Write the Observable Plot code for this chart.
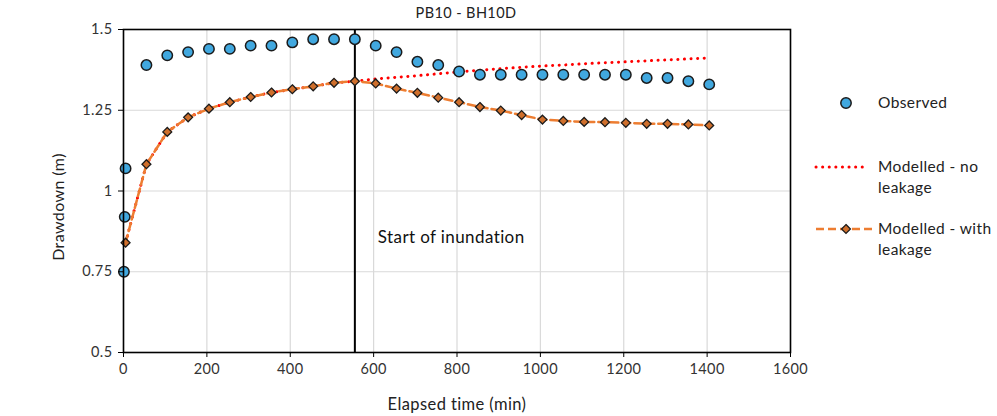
<!DOCTYPE html>
<html>
<head>
<meta charset="utf-8">
<script src="https://cdn.jsdelivr.net/npm/d3@7"></script>
<script src="https://cdn.jsdelivr.net/npm/@observablehq/plot@0.6"></script>
<style>
  html, body { margin: 0; padding: 0; background: #fff; overflow: hidden; }
  svg text { letter-spacing: 0.4px; }
</style>
</head>
<body>
<div id="chart"></div>
<script>
// ---- data ----
const chartTitle = "PB10 - BH10D";
const xTicks = [0, 200, 400, 600, 800, 1000, 1200, 1400, 1600];
const xTickLabels = ["0", "200", "400", "600", "800", "1000", "1200", "1400", "1600"];
const yTicks = [0.5, 0.75, 1, 1.25, 1.5];
const yTickLabels = ["0.5", "0.75", "1", "1.25", "1.5"];

const obsTime = [1, 3, 5, 55, 105, 155, 205, 255, 305, 355, 405, 455, 505, 555,
  605, 655, 705, 755, 805, 855, 905, 955, 1005, 1055, 1105, 1155, 1205, 1255, 1305, 1355, 1405];
const obsDrawdown = [0.75, 0.92, 1.07, 1.39, 1.42, 1.43, 1.44, 1.44, 1.45, 1.45, 1.46, 1.47, 1.47, 1.47,
  1.45, 1.43, 1.40, 1.39, 1.37, 1.36, 1.36, 1.36, 1.36, 1.36, 1.36, 1.36, 1.36, 1.35, 1.35, 1.34, 1.33];

const modelTime = [5, 55, 105, 155, 205, 255, 305, 355, 405, 455, 505, 555,
  605, 655, 705, 755, 805, 855, 905, 955, 1005, 1055, 1105, 1155, 1205, 1255, 1305, 1355, 1405];
const noLeakage = [0.84, 1.083, 1.183, 1.228, 1.255, 1.275, 1.291, 1.305, 1.315, 1.324, 1.335, 1.34,
  1.347, 1.352, 1.357, 1.363, 1.369, 1.374, 1.379, 1.383, 1.387, 1.390, 1.394, 1.397, 1.400, 1.403, 1.406, 1.409, 1.412];
const withLeakage = [0.84, 1.083, 1.183, 1.228, 1.255, 1.275, 1.291, 1.305, 1.315, 1.324, 1.335, 1.34,
  1.333, 1.317, 1.304, 1.289, 1.275, 1.26, 1.249, 1.235, 1.221, 1.217, 1.214, 1.213, 1.211, 1.208, 1.208, 1.206, 1.203];

const inundationTime = [555];
const annotationText = ["Start of inundation"];
const annotationAt = [{x: 610, y: 0.855}];

const seriesNames = ["Observed", "Modelled - no leakage", "Modelled - with leakage"];

// ---- tables ----
const obs = obsTime.map((t, i) => ({t, d: obsDrawdown[i]}));
const noLeak = modelTime.map((t, i) => ({t, d: noLeakage[i]}));
const withLeak = modelTime.map((t, i) => ({t, d: withLeakage[i]}));
const annot = annotationAt.map((p, i) => ({...p, text: annotationText[i]}));

const FONT = "Lato, 'Open Sans', sans-serif";
const C_OBS = "#41a8df", C_NO = "#ff0000", C_WITH = "#ed7d31", C_DIA = "#cf6f2c", C_EDGE = "#1b1b1b";
const R_OBS = 5.2, R_DIA = 4;

const plot = Plot.plot({
  width: 997,
  height: 416,
  marginLeft: 123,
  marginRight: 207,
  marginTop: 29,
  marginBottom: 64,
  style: {fontFamily: FONT, fontSize: "14px", color: "#333", background: "#fff"},
  x: {domain: [0, 1600], label: null},
  y: {domain: [0.5, 1.5], label: null},
  marks: [
    Plot.gridX(xTicks, {stroke: "#d9d9d9", strokeOpacity: 1, strokeWidth: 1.2}),
    Plot.gridY(yTicks, {stroke: "#d9d9d9", strokeOpacity: 1, strokeWidth: 1.2}),
    Plot.line(noLeak, {x: "t", y: "d", stroke: C_NO, strokeWidth: 3, strokeDasharray: "0.1 6.5", strokeLinecap: "round"}),
    Plot.line(withLeak, {x: "t", y: "d", stroke: C_WITH, strokeWidth: 2.5, strokeDasharray: "8 4"}),
    Plot.ruleX(inundationTime, {y1: 0.5, y2: 1.5, stroke: "black", strokeWidth: 2}),
    Plot.dot(withLeak, {x: "t", y: "d", symbol: "diamond2", r: R_DIA, fill: C_DIA, stroke: C_EDGE, strokeWidth: 1.3}),
    Plot.dot(obs, {x: "t", y: "d", r: R_OBS, fill: C_OBS, stroke: C_EDGE, strokeWidth: 1.5}),
    Plot.text(annot, {x: "x", y: "y", text: "text", textAnchor: "start", fontSize: 17, fill: "#111"}),
    Plot.frame({stroke: "black", strokeWidth: 1.6}),
    Plot.axisX(xTicks, {tickSize: 5, tickPadding: 6, stroke: "black", fill: "#333", fontSize: 14.5, label: null,
      tickFormat: (d) => xTickLabels[xTicks.indexOf(d)]}),
    Plot.axisY(yTicks, {tickSize: 5, tickPadding: 6, stroke: "black", fill: "#333", fontSize: 14.5, label: null,
      tickFormat: (d) => yTickLabels[yTicks.indexOf(d)]})
  ]
});

document.getElementById("chart").appendChild(plot);

// ---- title, axis titles, legend ----
const svg = d3.select(plot);
const txt = (x, y, s, size, opts = {}) => svg.append("text")
  .attr("x", x).attr("y", y).attr("dy", "0.35em")
  .attr("text-anchor", opts.anchor || "start")
  .attr("transform", opts.rotate ? `rotate(-90 ${x} ${y})` : null)
  .attr("font-family", FONT).attr("font-size", size).attr("fill", "#222")
  .text(s);

txt(466, 13, chartTitle, 14.5, {anchor: "middle"});
txt(457, 404, "Elapsed time (min)", 16.5, {anchor: "middle"});
txt(58, 207, "Drawdown (m)", 16, {anchor: "middle", rotate: true});

// legend
const lg = svg.append("g");
lg.append("circle").attr("cx", 846).attr("cy", 103).attr("r", R_OBS)
  .attr("fill", C_OBS).attr("stroke", C_EDGE).attr("stroke-width", 1.5);
txt(878, 103, seriesNames[0], 15.5);

lg.append("line").attr("x1", 816).attr("x2", 868).attr("y1", 167).attr("y2", 167)
  .attr("stroke", C_NO).attr("stroke-width", 3).attr("stroke-dasharray", "0.1 6.5").attr("stroke-linecap", "round");
txt(878, 167, "Modelled - no", 15.5);
txt(878, 188, "leakage", 15.5);

lg.append("line").attr("x1", 816).attr("x2", 872).attr("y1", 229).attr("y2", 229)
  .attr("stroke", C_WITH).attr("stroke-width", 2.5).attr("stroke-dasharray", "8 4");
lg.append("path").attr("transform", "translate(846,229)")
  .attr("d", d3.symbol(d3.symbolDiamond2, Math.PI * R_DIA * R_DIA)())
  .attr("fill", C_DIA).attr("stroke", C_EDGE).attr("stroke-width", 1.3);
txt(878, 229, "Modelled - with", 15.5);
txt(878, 250, "leakage", 15.5);
</script>
</body>
</html>
